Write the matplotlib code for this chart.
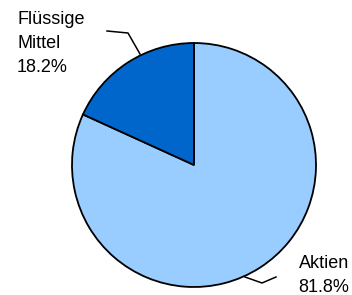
import matplotlib
matplotlib.use('Agg')
import matplotlib.pyplot as plt

# Daten
labels = ["Aktien", "Flüssige Mittel"]
label_lines = [["Aktien", "81.8%"], ["Flüssige", "Mittel", "18.2%"]]
values = [81.8, 18.2]
colors = ["#99CCFF", "#0066CC"]

plt.rcParams['font.family'] = ['Liberation Sans', 'DejaVu Sans']

fig = plt.figure(figsize=(3.52, 2.95), dpi=100)
W, H = 352, 295
cx, cy, r = 194, 165, 122
ax = fig.add_axes([(cx - r) / W, (H - cy - r) / H, 2 * r / W, 2 * r / H])

ax.pie(values, colors=colors, startangle=90, counterclock=False, radius=1,
       wedgeprops=dict(edgecolor="black", linewidth=1.3))
ax.set_xlim(-1, 1)
ax.set_ylim(-1, 1)
ax.set_aspect('equal')
ax.axis('off')


def px(x, y):
    # Pixelposition -> Datenkoordinaten der Torte
    return (x - cx) / r, (cy - y) / r


# Führungslinien
lead_aktien = [px(245, 277), px(262, 283), px(276, 277)]
lead_fluessig = [px(107, 31), px(128, 33), px(140, 54)]
for pts in (lead_aktien, lead_fluessig):
    xs, ys = zip(*pts)
    ax.plot(xs, ys, color="black", linewidth=1.1, clip_on=False)

# Beschriftungen
fs = 13
for i, line in enumerate(label_lines[0]):
    x, y = px(324, 267.5 + 24.5 * i)
    ax.text(x, y, line, ha='center', va='baseline', fontsize=fs, color='black')
for i, line in enumerate(label_lines[1]):
    x, y = px(17, 24 + 24 * i)
    ax.text(x, y, line, ha='left', va='baseline', fontsize=fs, color='black')

fig.savefig("out.png", dpi=100)
